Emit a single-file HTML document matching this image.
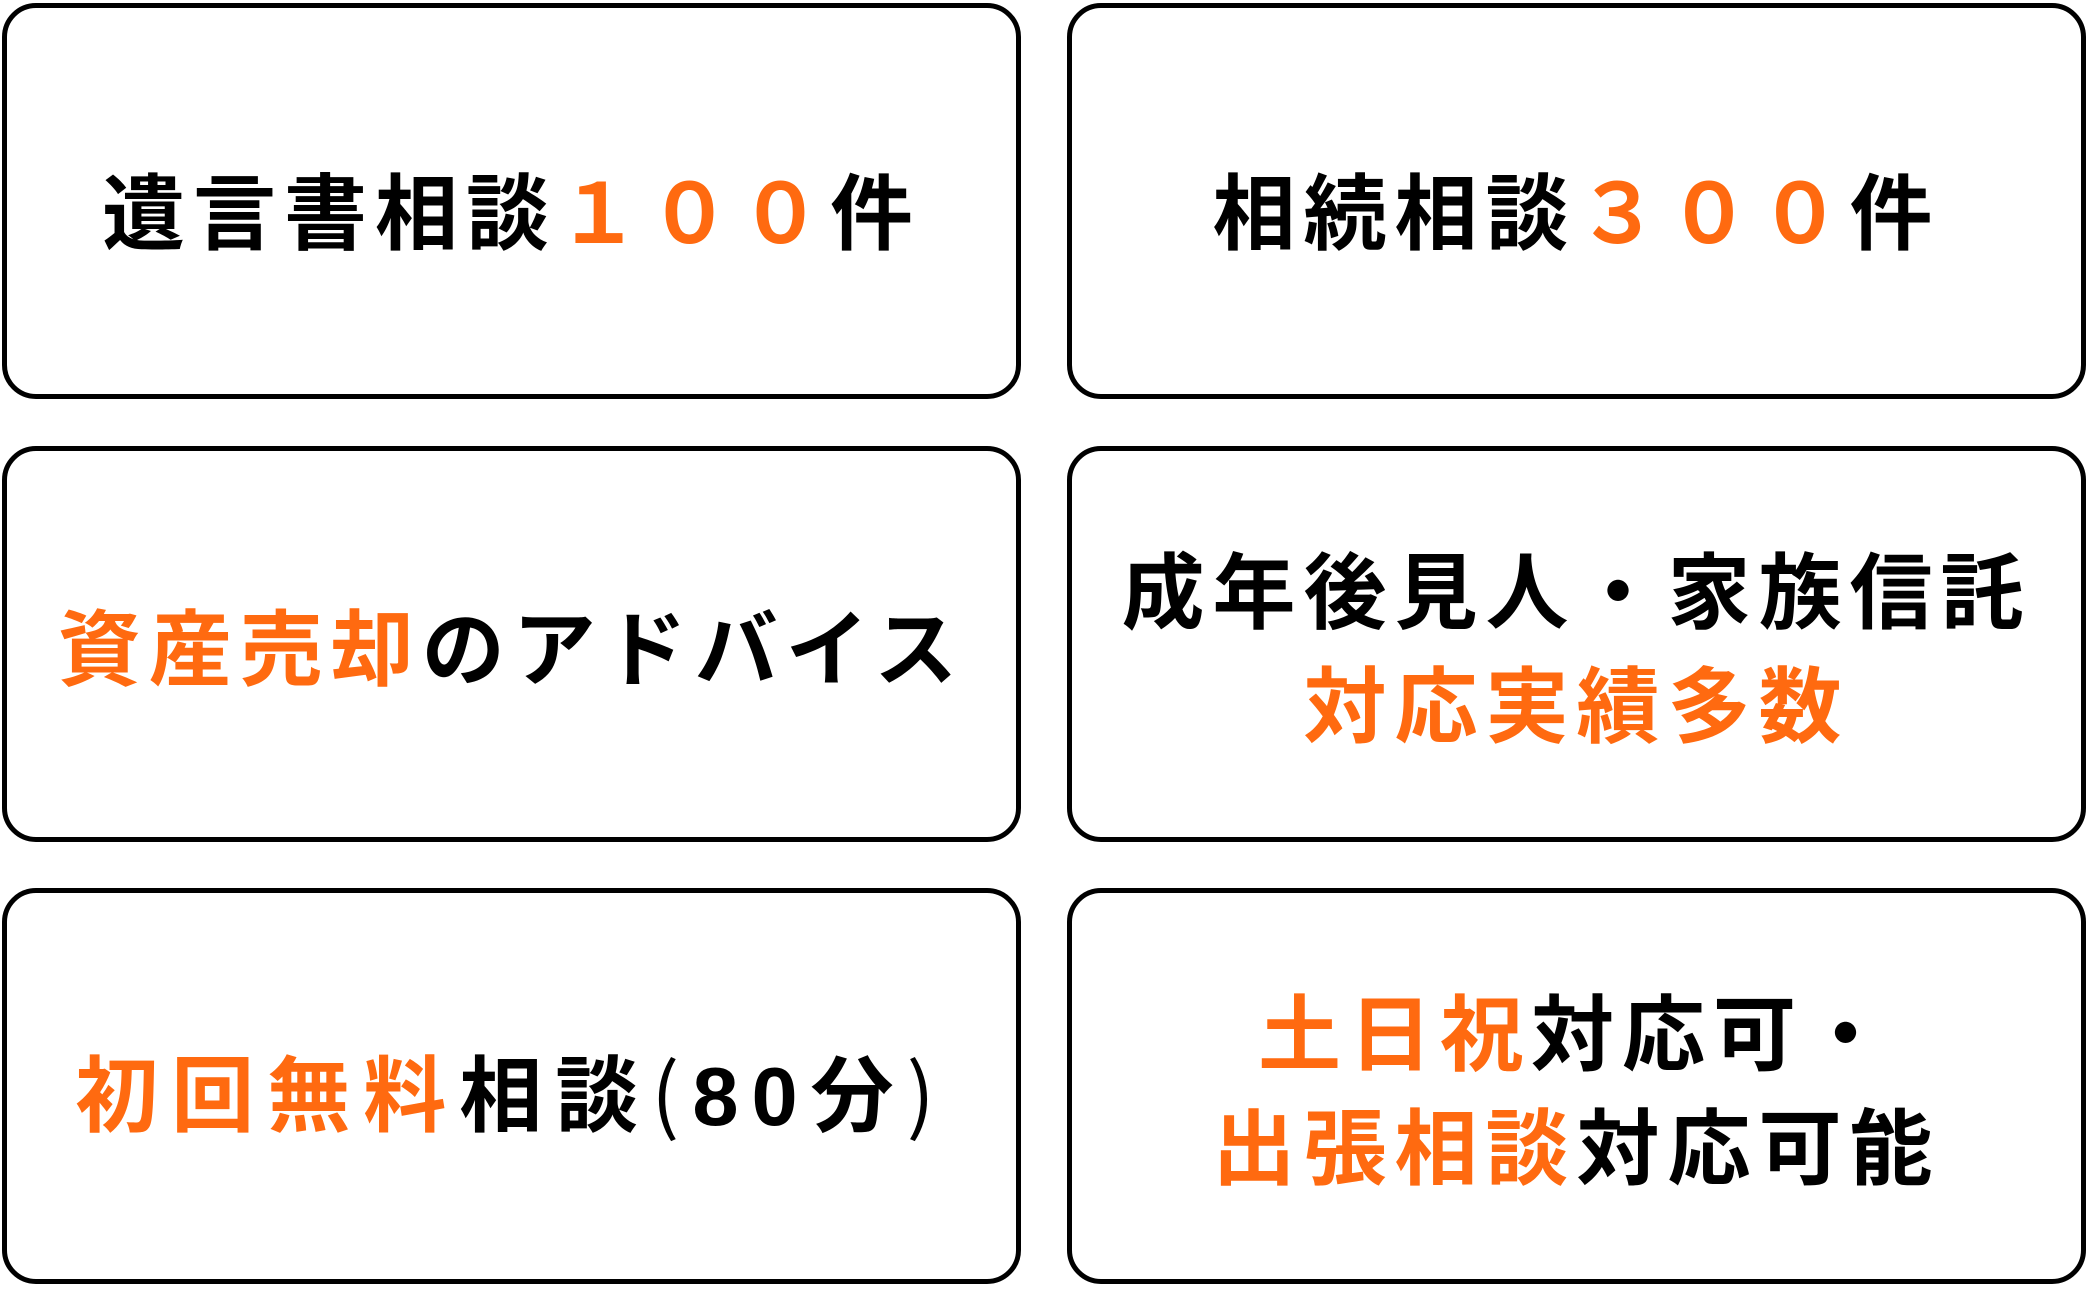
<!DOCTYPE html>
<html><head><meta charset="utf-8"><style>
html,body{margin:0;padding:0;background:#fff;}
body{width:2090px;height:1289px;position:relative;overflow:hidden;
font-family:"Liberation Sans","Noto Sans CJK JP",sans-serif;}
.b{position:absolute;width:1009px;height:386px;border:5px solid #000;border-radius:34px;box-sizing:content-box;
display:flex;align-items:center;justify-content:center;text-align:center;
font-size:83px;font-weight:bold;letter-spacing:8px;line-height:114px;color:#000;}
.b>span{position:relative;}
.o{color:#ff6a10;}
.p{font-family:"Noto Sans CJK JP",sans-serif;font-weight:normal;}
</style></head><body>
<div class="b" style="left:2px;top:3px"><span style="top:14px">遺言書相談<span class="o">１００</span>件</span></div>
<div class="b" style="left:1067px;top:3px"><span style="top:14px">相続相談<span class="o">３００</span>件</span></div>
<div class="b" style="left:2px;top:446px"><span style="top:7px"><span class="o">資産売却</span>のアドバイス</span></div>
<div class="b" style="left:1067px;top:446px"><span style="top:7px">成年後見人・家族信託<br><span class="o">対応実績多数</span></span></div>
<div class="b" style="left:2px;top:888px;letter-spacing:13px"><span style="top:7px"><span class="o">初回無料</span>相談<span class="p">(</span>80分<span class="p">)</span></span></div>
<div class="b" style="left:1067px;top:888px"><span style="top:7px"><span class="o">土日祝</span>対応可・<br><span class="o">出張相談</span>対応可能</span></div>
</body></html>
